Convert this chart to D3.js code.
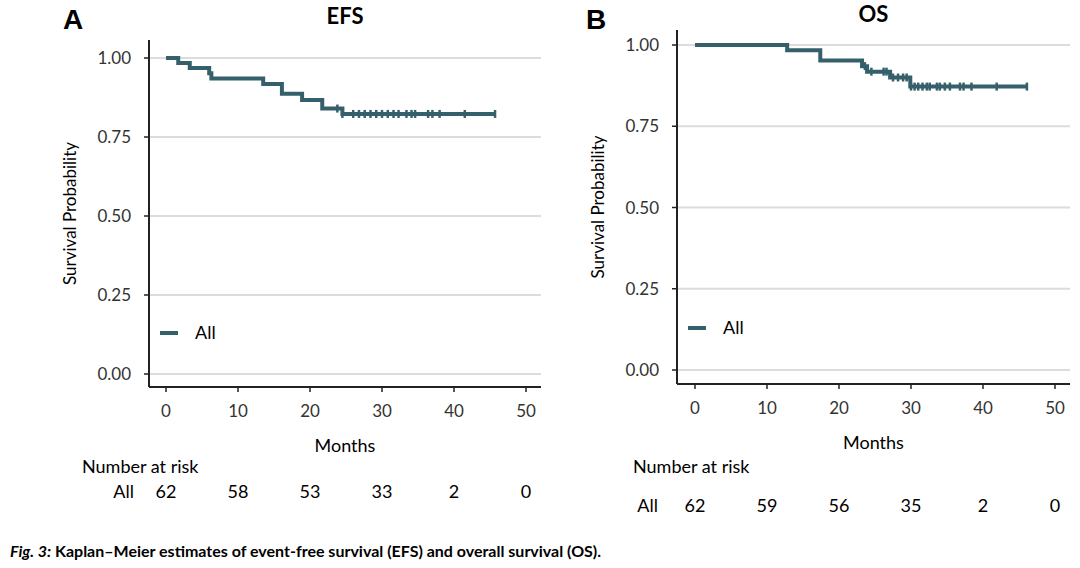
<!DOCTYPE html>
<html><head><meta charset="utf-8">
<script src="https://cdn.jsdelivr.net/npm/d3@7"></script>
<style>body{margin:0;background:#fff;font-family:Lato,"Open Sans",sans-serif}</style>
</head><body><svg id="c" width="1080" height="568"></svg>
<script>
const color = "#35606b";
const xTicks = [0, 10, 20, 30, 40, 50];
const yTicks = [0, 0.25, 0.5, 0.75, 1];

// [time, survival] steps
const efsSteps = [[0,1],[1.7,0.984],[3.3,0.968],[6,0.952],[6.3,0.935],[13.5,0.918],[16.1,0.887],[18.9,0.867],[21.7,0.84],[24.5,0.823],[45.7,0.823]];
const efsCensor = [23.8,24.5,26,26.8,27.6,28.4,29.2,30,30.8,31.6,32.3,33.4,34.1,34.6,36.4,37,38,41.5,45.7];
const efsRisk = [62, 58, 53, 33, 2, 0];

const osSteps = [[0,1],[12.8,0.984],[17.4,0.952],[23.2,0.935],[23.9,0.918],[27.1,0.9],[29.9,0.872],[46.1,0.872]];
const osCensor = [23.6,24.5,26.2,26.6,27.5,28.2,28.9,29.4,30,30.5,31,31.6,32.2,32.6,33.6,34,34.7,35.4,36.8,37.3,38.4,41.9,46.1];
const osRisk = [62, 59, 56, 35, 2, 0];

const svg = d3.select("#c");

function panel(o) {
  const x = d3.scaleLinear().domain([0, 50]).range([o.x0, o.x0 + 360]);
  const y = d3.scaleLinear().domain([0, 1]).range([o.y0, o.y1]);
  const g = svg.append("g");
  g.selectAll(".grid").data(yTicks).join("line")
    .attr("x1", o.left).attr("x2", o.right).attr("y1", d => y(d)).attr("y2", d => y(d))
    .attr("stroke", "#dcdcdc").attr("stroke-width", 2);
  g.append("line").attr("x1", o.left).attr("x2", o.left).attr("y1", o.top).attr("y2", o.bottom).attr("stroke", "#222").attr("stroke-width", 2);
  g.append("line").attr("x1", o.left).attr("x2", o.right).attr("y1", o.bottom).attr("y2", o.bottom).attr("stroke", "#222").attr("stroke-width", 2);
  g.selectAll(".yt").data(yTicks).join("line")
    .attr("x1", o.left - 5).attr("x2", o.left).attr("y1", d => y(d)).attr("y2", d => y(d)).attr("stroke", "#222").attr("stroke-width", 1.5);
  g.selectAll(".yl").data(yTicks).join("text")
    .attr("x", o.left - 18).attr("y", d => y(d) + 6).attr("text-anchor", "end")
    .attr("font-size", 17).attr("fill", "#333").text(d3.format(".2f"));
  g.selectAll(".xt").data(xTicks).join("line")
    .attr("x1", d => x(d)).attr("x2", d => x(d)).attr("y1", o.bottom).attr("y2", o.bottom + 5).attr("stroke", "#222").attr("stroke-width", 1.5);
  g.selectAll(".xl").data(xTicks).join("text")
    .attr("x", d => x(d)).attr("y", o.bottom + 30).attr("text-anchor", "middle")
    .attr("font-size", 17).attr("fill", "#333").text(d => d);
  g.append("text").attr("x", (o.left + o.right) / 2).attr("y", o.bottom + 65).attr("text-anchor", "middle").attr("font-size", 18).text("Months");
  g.append("text").attr("transform", `translate(${o.left - 73},${(o.top + o.bottom) / 2})rotate(-90)`).attr("text-anchor", "middle").attr("font-size", 17).text("Survival Probability");
  g.append("text").attr("x", (o.left + o.right) / 2).attr("y", o.titleY).attr("text-anchor", "middle").attr("font-size", 22).attr("font-weight", "bold").text(o.title);
  g.append("text").attr("x", o.letterX).attr("y", 29).attr("font-size", 28).attr("font-weight", "bold").attr("font-family", "Liberation Sans, Arial").text(o.letter);
  const line = d3.line().curve(d3.curveStepAfter).x(d => x(d[0])).y(d => y(d[1]));
  g.append("path").datum(o.steps).attr("d", line).attr("fill", "none").attr("stroke", color).attr("stroke-width", 4);
  const surv = t => { let s = 1; o.steps.forEach(d => { if (d[0] <= t) s = d[1]; }); return s; };
  g.selectAll(".cen").data(o.censor).join("line")
    .attr("x1", d => x(d)).attr("x2", d => x(d)).attr("y1", d => y(surv(d)) - 4).attr("y2", d => y(surv(d)) + 4)
    .attr("stroke", color).attr("stroke-width", 2.5);
  g.append("line").attr("x1", o.left + 11).attr("x2", o.left + 29).attr("y1", o.legY).attr("y2", o.legY).attr("stroke", color).attr("stroke-width", 4);
  g.append("text").attr("x", o.left + 46).attr("y", o.legY + 6).attr("font-size", 18).text("All");
  g.append("text").attr("x", o.nrX).attr("y", 473).attr("font-size", 18).text("Number at risk");
  g.append("text").attr("x", o.allX).attr("y", o.riskY).attr("text-anchor", "end").attr("font-size", 18).text("All");
  g.selectAll(".risk").data(o.risk).join("text")
    .attr("x", (d, i) => x(xTicks[i])).attr("y", o.riskY).attr("text-anchor", "middle").attr("font-size", 18).text(d => d);
}

panel({x0: 166, y0: 374, y1: 58, left: 149, right: 541, top: 40, bottom: 387, title: "EFS", titleY: 24, letter: "A", letterX: 63, steps: efsSteps, censor: efsCensor, risk: efsRisk, legY: 333, nrX: 82, allX: 134, riskY: 498});
panel({x0: 695, y0: 370, y1: 45, left: 677, right: 1070, top: 30, bottom: 384, title: "OS", titleY: 22, letter: "B", letterX: 586, steps: osSteps, censor: osCensor, risk: osRisk, legY: 328, nrX: 633, allX: 658, riskY: 512});

svg.append("text").attr("x", 10).attr("y", 557).attr("font-size", 16).attr("font-weight", "bold")
  .call(t => {
    t.append("tspan").attr("font-style", "italic").text("Fig. 3:");
    t.append("tspan").text(" Kaplan–Meier estimates of event-free survival (EFS) and overall survival (OS).");
  });
</script></body></html>
